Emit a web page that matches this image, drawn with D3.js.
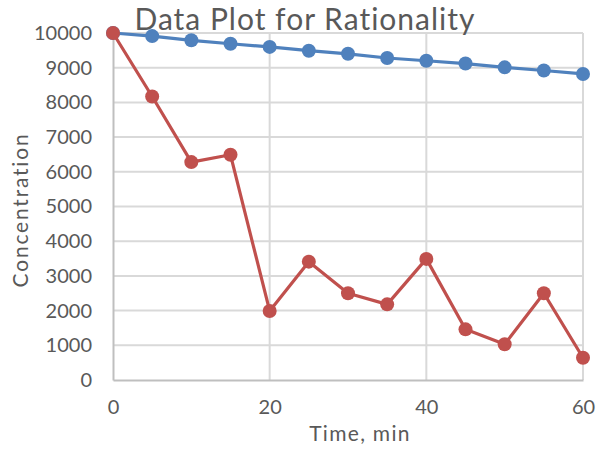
<!DOCTYPE html>
<html>
<head>
<meta charset="utf-8">
<script src="https://cdn.jsdelivr.net/npm/d3@7"></script>
<style>
  body { margin: 0; background: #fff; }
  svg { display: block; font-family: Lato, "Open Sans", sans-serif; }
</style>
</head>
<body>
<svg id="chart"></svg>
<script>
// data
var times = [0, 5, 10, 15, 20, 25, 30, 35, 40, 45, 50, 55, 60]
var rational = [10000, 9910, 9790, 9690, 9600, 9490, 9400, 9280, 9200, 9120, 9010, 8920, 8820]
var measured = [10000, 8170, 6280, 6490, 1990, 3410, 2500, 2180, 3490, 1460, 1030, 2500, 640]
var xTicks = [0, 20, 40, 60]
var yTicks = [0, 1000, 2000, 3000, 4000, 5000, 6000, 7000, 8000, 9000, 10000]

var width = 600
var height = 454

var margin = {top: 33, bottom: 74, left: 113, right: 17}

var svg = d3.select("#chart").attr("width", width).attr("height", height)

var x = d3.scaleLinear().domain([0, 60]).range([margin.left, width - margin.right])
var y = d3.scaleLinear().domain([0, 10000]).range([height - margin.bottom, margin.top])

var grey = "#d9d9d9"
var textCol = "#595959"

// gridlines
svg.append("g").selectAll("line").data(yTicks.slice(1)).enter().append("line")
  .attr("x1", x(0)).attr("x2", x(60))
  .attr("y1", d => y(d)).attr("y2", d => y(d))
  .attr("stroke", grey).attr("stroke-width", 2)

svg.append("g").selectAll("line").data(xTicks.slice(1)).enter().append("line")
  .attr("x1", d => x(d)).attr("x2", d => x(d))
  .attr("y1", y(0)).attr("y2", y(10000))
  .attr("stroke", grey).attr("stroke-width", 2)

// axes
var xAxis = d3.axisBottom(x).tickValues(xTicks).tickSize(0).tickPadding(20)
var yAxis = d3.axisLeft(y).tickValues(yTicks).tickSize(0).tickPadding(21).tickFormat(d3.format("d"))

var gx = svg.append("g").attr("transform", `translate(0,${y(0)})`).call(xAxis)
var gy = svg.append("g").attr("transform", `translate(${x(0)},0)`).call(yAxis)

;[gx, gy].forEach(g => {
  g.select(".domain").attr("stroke", "#bfbfbf").attr("stroke-width", 2)
  g.selectAll("text").attr("fill", textCol).attr("font-size", 20).attr("font-family", "Lato, sans-serif")
})

// series
var line = d3.line().x((d, i) => x(times[i])).y(d => y(d))

var series = [
  {values: rational, color: "#4f81bd"},
  {values: measured, color: "#c0504d"}
]

series.forEach(s => {
  svg.append("path").datum(s.values)
    .attr("d", line)
    .attr("fill", "none")
    .attr("stroke", s.color)
    .attr("stroke-width", 3.2)
    .attr("stroke-linejoin", "round")

  svg.append("g").selectAll("circle").data(s.values).enter().append("circle")
    .attr("cx", (d, i) => x(times[i]))
    .attr("cy", d => y(d))
    .attr("r", 7)
    .attr("fill", s.color)
})

// titles
svg.append("text")
  .attr("x", 305).attr("y", 30)
  .attr("text-anchor", "middle")
  .attr("font-size", 30)
  .attr("letter-spacing", 1)
  .attr("fill", textCol)
  .text("Data Plot for Rationality")

svg.append("text")
  .attr("x", 360).attr("y", 441)
  .attr("text-anchor", "middle")
  .attr("font-size", 21)
  .attr("letter-spacing", 1.3)
  .attr("fill", textCol)
  .text("Time, min")

svg.append("text")
  .attr("transform", "translate(28,210) rotate(-90)")
  .attr("text-anchor", "middle")
  .attr("font-size", 21)
  .attr("letter-spacing", 1.8)
  .attr("fill", textCol)
  .text("Concentration")
</script>
</body>
</html>
